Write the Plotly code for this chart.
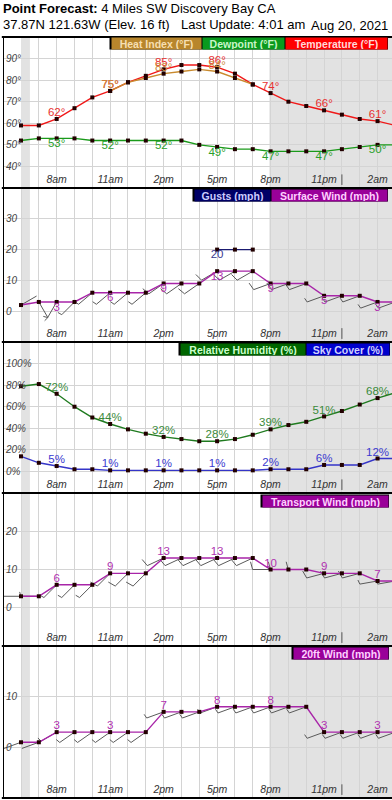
import math
import plotly.graph_objects as go

# ---------------- data ----------------
hours = list(range(6, 28))  # 6am .. 3am next day
label_hours = [8, 11, 14, 17, 20, 23, 26]
label_text = ["8am", "11am", "2pm", "5pm", "8pm", "11pm", "2am"]

temperature = [59, 59, 62, 67, 72, 75, 79, 82, 85, 87, 87, 86, 83, 78, 74, 70, 68, 66, 64, 62, 61, 59]
dewpoint = [52, 53, 53, 53, 52, 52, 52, 52, 52, 52, 50, 49, 48, 48, 47, 47, 47, 47, 48, 49, 50, 50]
heat_hours = [11, 12, 13, 14, 15, 16, 17, 18, 19]
heat_index = [75, 79, 81, 83, 84, 85, 84, 81, 78]

surface_wind = [2, 3, 3, 3, 6, 6, 6, 6, 9, 9, 9, 13, 13, 13, 9, 9, 9, 5, 5, 5, 3, 3]
surface_dir = [60, 150, 210, 225, 230, 230, 230, 230, 235, 235, 235, 240, 240, 240, 250, 250, 250, 250, 250, 250, 250, 250]
gust_hours = [17, 18, 19]
gusts = [20, 20, 20]

rel_humidity = [79, 81, 72, 60, 50, 44, 39, 35, 32, 30, 28, 28, 30, 34, 39, 43, 46, 51, 56, 62, 68, 73]
sky_cover = [14, 8, 5, 2, 2, 1, 1, 1, 1, 1, 1, 1, 1, 1, 2, 2, 2, 6, 6, 6, 12, 12]

transport_wind = [3, 3, 6, 6, 6, 9, 9, 9, 13, 13, 13, 13, 13, 13, 10, 10, 10, 9, 9, 9, 7, 7]
transport_dir = [270, 270, 225, 225, 225, 225, 225, 225, 245, 245, 245, 245, 245, 245, 270, 270, 270, 255, 255, 255, 260, 260]

wind20 = [1, 1, 3, 3, 3, 3, 3, 3, 7, 7, 7, 8, 8, 8, 8, 8, 8, 3, 3, 3, 3, 3]
wind20_dir = [250, 250, 240, 235, 235, 235, 235, 235, 250, 250, 250, 250, 250, 250, 250, 250, 250, 250, 250, 250, 250, 250]

sunrise, sunset = 6.5, 19.93

# ---------------- layout geometry ----------------
W, H = 392, 800
FONT = "Liberation Sans, Arial, sans-serif"
XPX0, XPX1 = 3, 392
XRANGE = [4.99, 26.81]
# (top px, bottom px, y range, tick values, tick suffix)
panels = [
    (37, 188, [30, 100], [40, 50, 60, 70, 80, 90], "°"),
    (188, 342, [-10, 40], [0, 10, 20, 30], ""),
    (342, 493, [-20, 120], [0, 20, 40, 60, 80, 100], "%"),
    (493, 646, [-10, 30], [0, 10, 20], ""),
    (646, 798, [-10, 20], [0, 10], ""),
]

fig = go.Figure()

grid_vals = hours[:-1]
grid_text = [label_text[label_hours.index(h)] if h in label_hours else "" for h in grid_vals]

for i, (top, bot, yr, yt, suf) in enumerate(panels, start=1):
    xa = "xaxis" if i == 1 else f"xaxis{i}"
    ya = "yaxis" if i == 1 else f"yaxis{i}"
    fig.layout[xa] = dict(
        domain=[XPX0 / W, XPX1 / W], range=XRANGE, anchor="y" if i == 1 else f"y{i}",
        tickmode="array", tickvals=grid_vals, ticktext=grid_text,
        ticklabelposition="inside", ticks="", showgrid=True, gridcolor="#d4d4d4", gridwidth=1,
        zeroline=False, showline=False,
        tickfont=dict(family=FONT, size=10.5, color="#333333", style="italic"),
        fixedrange=True,
    )
    fig.layout[ya] = dict(
        domain=[1 - bot / H, 1 - top / H], range=yr, anchor="x" if i == 1 else f"x{i}",
        tickmode="array", tickvals=yt, ticktext=[f"{v}{suf}" for v in yt],
        ticklabelposition="inside", ticks="", showgrid=True, gridcolor="#d4d4d4", gridwidth=1,
        zeroline=False, showline=False,
        tickfont=dict(family=FONT, size=10, color="#444444", style="italic"),
        fixedrange=True,
    )


def ax(i):
    return ("x", "y") if i == 1 else (f"x{i}", f"y{i}")


def line(i, xs, ys, color, width=1.4):
    xr, yr = ax(i)
    fig.add_trace(go.Scatter(
        x=xs, y=ys, mode="lines+markers", xaxis=xr, yaxis=yr,
        line=dict(color=color, width=width),
        marker=dict(symbol="square", size=4, color="#220000"),
        hoverinfo="skip", cliponaxis=True,
    ))


def labels(i, xs, ys, fmt, color, pos):
    xr, yr = ax(i)
    sel = [(x, y) for x, y in zip(xs, ys) if x in label_hours]
    fig.add_trace(go.Scatter(
        x=[s[0] for s in sel], y=[s[1] for s in sel], mode="text", xaxis=xr, yaxis=yr,
        text=[fmt.format(s[1]) for s in sel], textposition=pos,
        textfont=dict(family=FONT, size=11.5, color=color), hoverinfo="skip",
    ))


def barbs(i, xs, ys, speeds, dirs):
    top, bot, yr, _, _ = panels[i - 1]
    px_x = (XPX1 - XPX0) / (XRANGE[1] - XRANGE[0])
    px_y = (bot - top) / (yr[1] - yr[0])
    L, FULL, HALF, STEP = 18, 8, 4.5, 3.5
    th = math.radians(75)
    bx, by = [], []
    for x, y, s, d in zip(xs, ys, speeds, dirs):
        r = math.radians(d)
        sx, sy = math.sin(r), math.cos(r)
        ex, ey = x + L * sx / px_x, y + L * sy / px_y
        bx += [x, ex, None]
        by += [y, ey, None]
        fx = sx * math.cos(th) + sy * math.sin(th)
        fy = -sx * math.sin(th) + sy * math.cos(th)
        n = round(s * 0.869 / 5)
        feathers = [FULL] * (n // 2) + [HALF] * (n % 2)
        for k, fl in enumerate(feathers):
            px0 = ex - k * STEP * sx / px_x
            py0 = ey - k * STEP * sy / px_y
            bx += [px0, px0 + fl * fx / px_x, None]
            by += [py0, py0 + fl * fy / px_y, None]
    xr, yr_ = ax(i)
    fig.add_trace(go.Scatter(x=bx, y=by, mode="lines", xaxis=xr, yaxis=yr_,
                             line=dict(color="#5a5a5a", width=1), hoverinfo="skip"))


# panel 1: temperature / dewpoint / heat index
line(1, hours, temperature, "#f01818")
line(1, heat_hours, heat_index, "#c98a2e")
line(1, hours, dewpoint, "#1a9a1a")
labels(1, hours, temperature, "{}°", "#e83030", "top center")
labels(1, heat_hours, heat_index, "{}°", "#cc8a3a", "top center")
labels(1, hours, dewpoint, "{}°", "#2aa02a", "bottom center")

# panel 2: surface wind + gusts
barbs(2, hours, surface_wind, surface_wind, surface_dir)
line(2, hours, surface_wind, "#a825a8")
line(2, gust_hours, gusts, "#1a1a70")
labels(2, hours, surface_wind, "{}", "#b030b0", "bottom center")
labels(2, gust_hours[:1], gusts[:1], "{}", "#3a3a90", "bottom center")

# panel 3: RH + sky cover
line(3, hours, rel_humidity, "#1f7a1f")
line(3, hours, sky_cover, "#3535c8")
labels(3, hours, rel_humidity, "{}%", "#3a8a3a", "top center")
labels(3, hours, sky_cover, "{}%", "#3a3ad0", "top center")

# panel 4: transport wind
barbs(4, hours, transport_wind, transport_wind, transport_dir)
line(4, hours, transport_wind, "#a825a8")
labels(4, hours, transport_wind, "{}", "#b030b0", "top center")

# panel 5: 20ft wind
barbs(5, hours, wind20, wind20, wind20_dir)
line(5, hours, wind20, "#a825a8")
labels(5, hours, wind20, "{}", "#b030b0", "top center")

# ---------------- shapes ----------------
shapes = []
for i in range(1, 6):
    xr, yr = ax(i)
    for x0, x1 in [(hours[0], sunrise), (sunset, XRANGE[1])]:
        shapes.append(dict(type="rect", xref=xr, yref=f"{yr} domain", x0=x0, x1=x1, y0=0, y1=1,
                           fillcolor="#e2e2e2", line=dict(width=0), layer="below"))
    shapes.append(dict(type="line", xref=xr, yref=f"{yr} domain", x0=24, x1=24, y0=0.02, y1=0.09,
                       line=dict(color="#555555", width=1)))
for top, bot, *_ in panels:
    shapes.append(dict(type="line", xref="paper", yref="paper", x0=XPX0 / W - 0.003, x1=1,
                       y0=1 - top / H, y1=1 - top / H, line=dict(color="black", width=2)))
shapes.append(dict(type="line", xref="paper", yref="paper", x0=XPX0 / W - 0.003, x1=1,
                   y0=1 - 798 / H, y1=1 - 798 / H, line=dict(color="black", width=2)))
shapes.append(dict(type="line", xref="paper", yref="paper", x0=(XPX0 + 0.5) / W, x1=(XPX0 + 0.5) / W,
                   y0=1 - 798 / H, y1=1 - 37 / H, line=dict(color="black", width=1)))

# legend bars
legend_rows = [
    (37, [("Heat Index (°F)", 111, 200, "#b8862c", "#f6dfb2"),
          ("Dewpoint (°F)", 202, 283, "#0a9a1e", "#c8f5c8"),
          ("Temperature (°F)", 285, 386, "#ff0000", "#ffd8d8")]),
    (189, [("Gusts (mph)", 194, 269, "#000066", "#ccccff"),
           ("Surface Wind (mph)", 271, 386, "#990099", "#ffd0ff")]),
    (343, [("Relative Humidity (%)", 180, 304, "#006600", "#ccffcc"),
           ("Sky Cover (%)", 306, 388, "#0000cc", "#d0d0ff")]),
    (495, [("Transport Wind (mph)", 262, 387, "#990099", "#ffd0ff")]),
    (647, [("20ft Wind (mph)", 293, 387, "#990099", "#ffd0ff")]),
]
annotations = []
for y_top, boxes in legend_rows:
    x_first = boxes[0][1]
    x_last = boxes[-1][2]
    shapes.append(dict(type="rect", xref="paper", yref="paper", x0=(x_first - 1.5) / W, x1=(x_last + 2) / W,
                       y0=1 - (y_top + 12.5) / H, y1=1 - (y_top - 0.5) / H,
                       fillcolor="black", line=dict(width=0)))
    for text, x0, x1, bg, fg in boxes:
        annotations.append(dict(
            xref="paper", yref="paper", x=x0 / W, y=1 - y_top / H, xanchor="left", yanchor="top",
            text=f"<b>{text}</b>", showarrow=False, width=x1 - x0, height=11, borderpad=0,
            bgcolor=bg, font=dict(family=FONT, size=10.5, color=fg), align="center", valign="middle",
        ))

# header
annotations += [
    dict(xref="paper", yref="paper", x=1 / W, y=1 - 8 / H, xanchor="left", yanchor="middle",
         text="<b>Point Forecast:</b> 4 Miles SW Discovery Bay CA", showarrow=False,
         font=dict(family=FONT, size=13, color="black")),
    dict(xref="paper", yref="paper", x=1 / W, y=1 - 24 / H, xanchor="left", yanchor="middle",
         text="37.87N 121.63W (Elev. 16 ft)", showarrow=False,
         font=dict(family=FONT, size=13, color="black")),
    dict(xref="paper", yref="paper", x=179 / W, y=1 - 24 / H, xanchor="left", yanchor="middle",
         text="Last Update: 4:01 am", showarrow=False,
         font=dict(family=FONT, size=13, color="black")),
    dict(xref="paper", yref="paper", x=309 / W, y=1 - 25 / H, xanchor="left", yanchor="middle",
         text="Aug 20, 2021", showarrow=False,
         font=dict(family=FONT, size=13, color="black")),
]

fig.update_layout(
    width=W, height=H, autosize=False, margin=dict(l=0, r=0, t=0, b=0),
    paper_bgcolor="white", plot_bgcolor="white", showlegend=False,
    shapes=shapes, annotations=annotations,
)

fig.write_html("out.html", config={"displayModeBar": False},
               post_script="document.body.style.margin='0';")
